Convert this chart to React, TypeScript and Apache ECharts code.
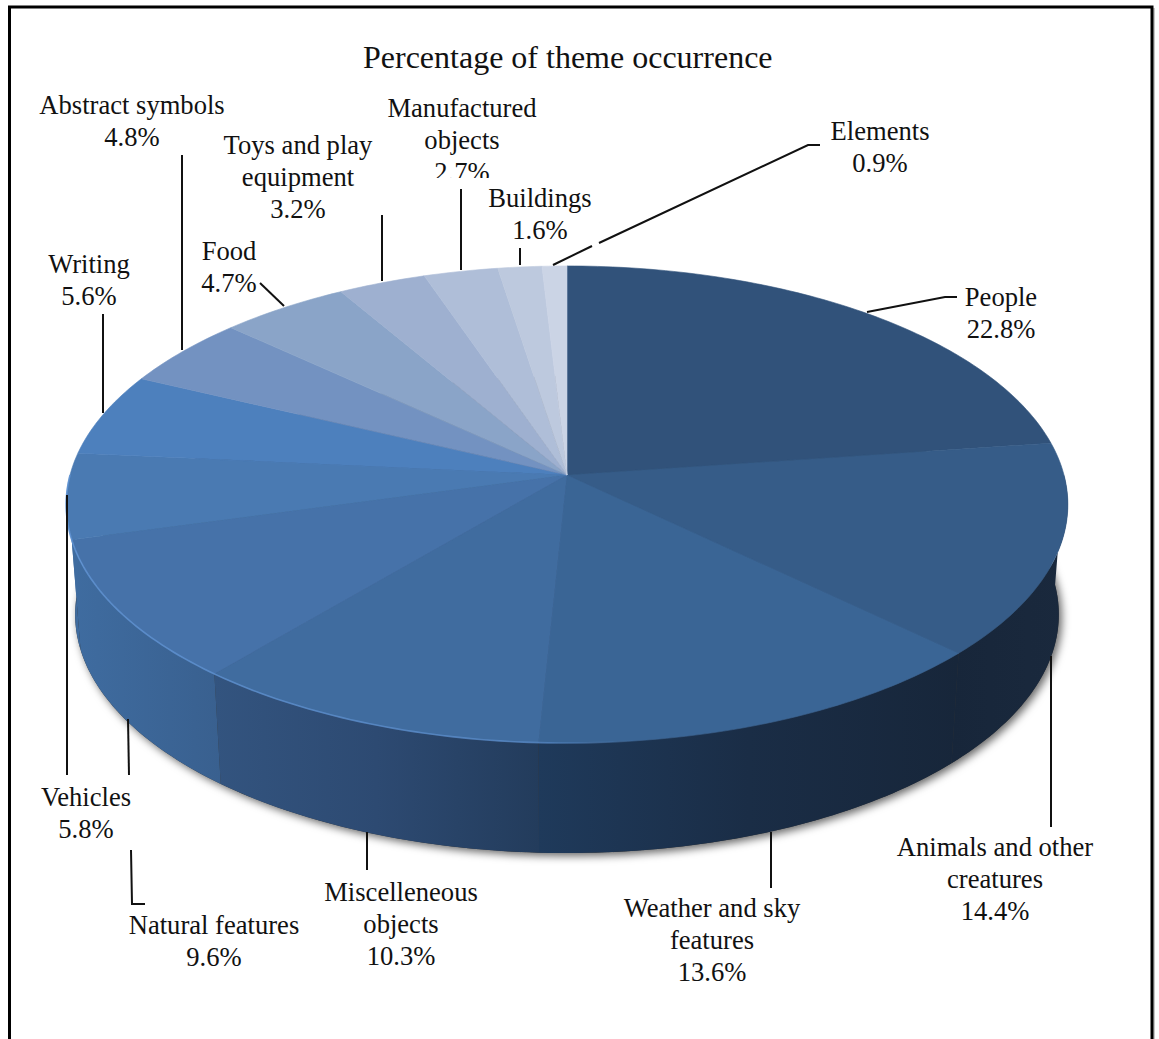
import React, { useEffect, useRef } from "react";
import * as echarts from "echarts";

const titleText = "Percentage of theme occurrence";
const categories = [
  "People",
  "Animals and other\ncreatures",
  "Weather and sky\nfeatures",
  "Miscelleneous\nobjects",
  "Natural features",
  "Vehicles",
  "Writing",
  "Abstract symbols",
  "Food",
  "Toys and play\nequipment",
  "Manufactured\nobjects",
  "Buildings",
  "Elements",
];
const values = [22.8, 14.4, 13.6, 10.3, 9.6, 5.8, 5.6, 4.8, 4.7, 3.2, 2.7, 1.6, 0.9];

const topColors = [
  "#31527a", "#365c88", "#3a6595", "#406c9f", "#4672a9", "#4a7ab2", "#4d80bd",
  "#7392c1", "#8aa4c8", "#9eb0d0", "#afbed8", "#bdc9de", "#cbd4e5",
];
const wallStops: string[][] = [
  ["#17273b", "#17273b"],
  ["#17263a", "#1a293d"],
  ["#1f3a5b", "#1a2d46", "#17263a"],
  ["#33547f", "#2d4a72", "#233c5c"],
  ["#3f6ca0", "#39608f"],
  ["#3f6ca0", "#3f6ca0"],
  ["#3f6ca0", "#3f6ca0"],
  ["#3f6ca0", "#3f6ca0"],
  ["#3f6ca0", "#3f6ca0"],
  ["#3f6ca0", "#3f6ca0"],
  ["#3f6ca0", "#3f6ca0"],
  ["#3f6ca0", "#3f6ca0"],
  ["#3f6ca0", "#3f6ca0"],
];

// text anchors: [centre x, centre y of the block]
const labelAnchors: number[][] = [
  [1001, 313], [995, 879], [712, 940], [401, 924], [214, 941], [86, 813],
  [89, 280], [132, 121], [229, 267], [298, 177], [462, 140], [540, 214], [880, 147],
];
const leaderLines: number[][][][] = [
  [[[867, 312], [945, 297], [957, 297]]],
  [[[1051, 656], [1051, 827]]],
  [[[771, 832], [771, 888]]],
  [[[367, 832], [367, 870]]],
  [[[128, 719], [129, 775]], [[131, 850], [132, 904], [145, 904]]],
  [[[67, 495], [67, 775]]],
  [[[103, 314], [103, 413]]],
  [[[182, 155], [182, 350]]],
  [[[260, 283], [284, 306]]],
  [[[382, 215], [382, 281]]],
  [[[461, 189], [461, 270]]],
  [[[520, 248], [520, 265]]],
  [[[553, 265], [592, 246]], [[599, 243], [808, 145], [820, 145]]],
];

const FONT = '"Liberation Serif", serif';
const CX = 567;
const CY = 475;
const A = 497;
const B = 234.9;
const K = 0.1237;
const DEPTH = 110;
const BOTTOM_SCALE = 0.982;
const total = values.reduce((s, v) => s + v, 0);
const cumulative = values.map((_, i) => values.slice(0, i).reduce((s, v) => s + v, 0));

const rim = (t: number): number[] => {
  const w = 1 + K * Math.cos(t);
  return [CX + (A * Math.sin(t)) / w, CY - (B * Math.cos(t)) / w];
};
const rimLow = (t: number): number[] => {
  const p = rim(t);
  return [CX + (p[0] - CX) * BOTTOM_SCALE, p[1] + DEPTH];
};
const arcPts = (a: number, b: number, f: (t: number) => number[]) => {
  const n = Math.max(2, Math.ceil((Math.abs(b - a) / (Math.PI * 2)) * 360));
  const out: number[][] = [];
  for (let i = 0; i <= n; i++) out.push(f(a + ((b - a) * i) / n));
  return out;
};
const angles = (i: number) => [
  (cumulative[i] / total) * Math.PI * 2,
  ((cumulative[i] + values[i]) / total) * Math.PI * 2,
];

const renderTop = (params: any) => {
  const i = params.dataIndex;
  const [a, b] = angles(i);
  return {
    type: "polygon",
    shape: { points: [[CX, CY], ...arcPts(a, b, rim)] },
    style: { fill: topColors[i], stroke: topColors[i], lineWidth: 0.6 },
  };
};
const renderWall = (params: any) => {
  const i = params.dataIndex;
  const [a0, b0] = angles(i);
  const a = Math.max(a0, Math.PI / 2);
  const b = Math.min(b0, (Math.PI * 3) / 2);
  if (b <= a) return null;
  const up = arcPts(a, b, rim);
  const low = arcPts(a, b, rimLow).reverse();
  const xs = up.map((p) => p[0]).concat(low.map((p) => p[0]));
  const minX = Math.min(...xs);
  const maxX = Math.max(...xs);
  const stops = wallStops[i].map((color, k) => ({ offset: k / (wallStops[i].length - 1), color }));
  return {
    type: "polygon",
    shape: { points: [...up, ...low] },
    style: { fill: new echarts.graphic.LinearGradient(minX, 0, maxX, 0, stops, true) },
  };
};
const renderShadow = () => ({
  type: "polygon",
  shape: { points: arcPts(0, Math.PI * 2, rimLow) },
  style: {
    fill: "#333",
    shadowBlur: 9,
    shadowColor: "rgba(0,0,0,0.6)",
    shadowOffsetX: 3,
    shadowOffsetY: 3,
  },
});
const renderHighlight = () => ({
  type: "polyline",
  shape: { points: arcPts((Math.PI * 3) / 2, Math.PI * 0.95, rim) },
  style: {
    fill: "none",
    lineWidth: 1.6,
    stroke: new echarts.graphic.LinearGradient(
      70, 0, 640, 0,
      [
        { offset: 0, color: "rgba(98,150,215,0.8)" },
        { offset: 0.8, color: "rgba(98,150,215,0.6)" },
        { offset: 1, color: "rgba(98,150,215,0)" },
      ],
      true
    ),
  },
});
const renderLabel = (params: any) => {
  const i = params.dataIndex;
  const lines = leaderLines[i].map((points) => ({
    type: "polyline",
    shape: { points },
    style: { fill: "none", stroke: "#111", lineWidth: 2 },
  }));
  const text = {
    type: "text",
    style: {
      x: labelAnchors[i][0],
      y: labelAnchors[i][1],
      text: `${categories[i]}\n${values[i]}%`,
      font: `26.6px ${FONT}`,
      fill: "#111",
      align: "center",
      verticalAlign: "middle",
      lineHeight: 32,
    },
  };
  return { type: "group", children: [...lines, text] };
};

const sliceData = categories.map((name, i) => ({ name, value: values[i] }));

export default function App() {
  const ref = useRef<HTMLDivElement>(null);
  useEffect(() => {
    if (!ref.current) return;
    const chart = echarts.init(ref.current, undefined, { renderer: "svg" });
    const custom = (renderItem: any, data: any[], z: number) => ({
      type: "custom",
      coordinateSystem: "none",
      silent: true,
      clip: false,
      z,
      renderItem,
      data,
    });
    chart.setOption({
      animation: false,
      backgroundColor: "#ffffff",
      title: {
        text: titleText,
        left: 363,
        top: 41,
        padding: 0,
        textStyle: { fontFamily: FONT, fontSize: 32, fontWeight: "normal", color: "#111" },
      },
      graphic: [
        {
          type: "polyline",
          shape: { points: [[1154, 8], [1154, 1039]] },
          style: { fill: "none", stroke: "#c8c8c8", lineWidth: 2 },
          z: 1,
        },
        {
          type: "polyline",
          shape: { points: [[9.5, 1039], [9.5, 7], [1152, 7], [1152, 1039]] },
          style: { fill: "none", stroke: "#000", lineWidth: 3 },
          z: 1,
        },
        { type: "rect", shape: { x: 430, y: 178, width: 120, height: 8 }, style: { fill: "#fff" }, z: 50 },
      ],
      series: [
        custom(renderShadow, [{ name: "shadow", value: total }], 2),
        custom(renderWall, sliceData, 3),
        custom(renderTop, sliceData, 4),
        custom(renderHighlight, [{ name: "rim", value: total }], 5),
        custom(renderLabel, sliceData, 6),
      ],
    });
    return () => chart.dispose();
  }, []);
  return <div ref={ref} style={{ position: "absolute", left: 0, top: 0, width: 1159, height: 1039 }} />;
}
